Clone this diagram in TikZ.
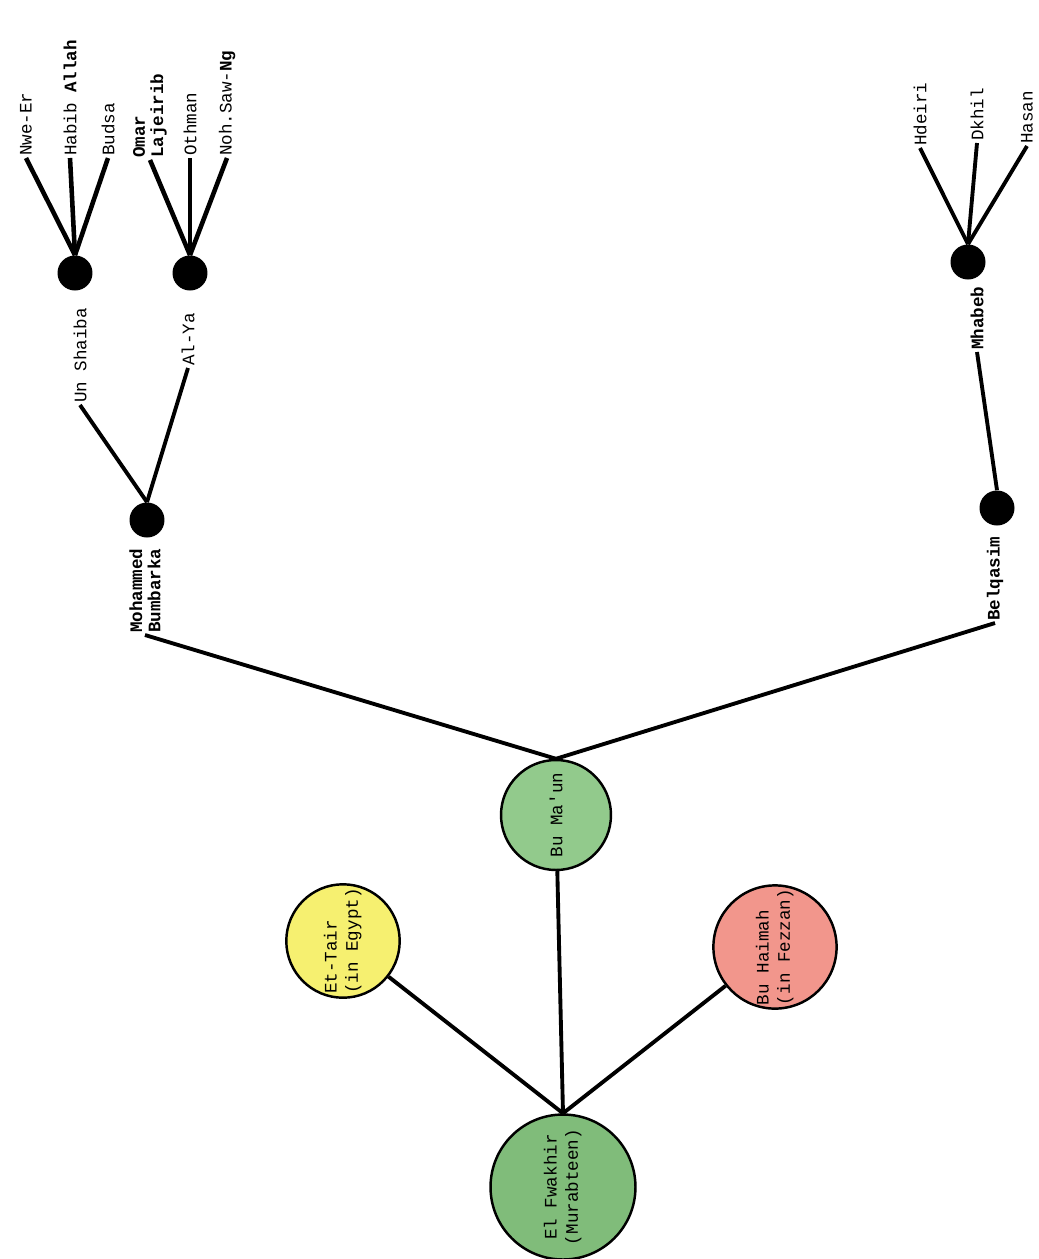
\documentclass[tikz,border=0pt]{standalone}
\usepackage{fontspec}
\setmainfont{Liberation Mono}
\usetikzlibrary{positioning}

\definecolor{fwgreen}{RGB}{128,188,122}
\definecolor{maungreen}{RGB}{146,202,140}
\definecolor{tairyellow}{RGB}{246,240,112}
\definecolor{haimahred}{RGB}{242,150,140}

\begin{document}
\begin{tikzpicture}[x=0.02cm,y=-0.02cm,
    person/.style={circle,draw,line width=1.4pt,inner sep=0pt},
    dot/.style={circle,fill=black,minimum size=0.7cm,inner sep=0pt},
    lab/.style={inner sep=1pt,anchor=south},
    link/.style={line width=2.2pt},
    twig/.style={line width=2.6pt}]
  \useasboundingbox (0,0) rectangle (1039,1259);

  % the lower three generations
  \node[person,fill=fwgreen,minimum size=2.9cm] (fwakhir) at (563,1187)
    {\rotatebox{90}{\begin{tabular}{@{}c@{}}El Fwakhir\\(Murabteen)\end{tabular}}};
  \node[person,fill=maungreen,minimum size=2.2cm] (bumaun) at (556,815) {\rotatebox{90}{Bu Ma\textquotesingle un}};
  \node[person,fill=tairyellow,minimum size=2.26cm] (ettair) at (343,941)
    {\rotatebox{90}{\begin{tabular}{@{}l@{}}Et-Tair\\(in Egypt)\end{tabular}}};
  \node[person,fill=haimahred,minimum size=2.28cm] (buhaimah) at (775,947)
    {\rotatebox{90}{\begin{tabular}{@{}l@{}}Bu Haimah\\(in Fezzan)\end{tabular}}};
  \draw[link] (fwakhir.north) -- (bumaun);
  \draw[link] (fwakhir.north) -- (ettair);
  \draw[link] (fwakhir.north) -- (buhaimah);

  % Bu Ma'un's sons
  \node[lab,font=\bfseries] (mohammed) at (145,635) {\rotatebox{90}{\shortstack[l]{Mohammed\\Bumbarka}}};
  \node[dot] (mohammeddot) at (147,520) {};
  \node[lab,font=\bfseries] (belqasim) at (995,623) {\rotatebox{90}{Belqasim}};
  \node[dot] (belqasimdot) at (997,508) {};
  \draw[link] (bumaun.north) -- (mohammed.south);
  \draw[link] (bumaun.north) -- (belqasim.south);

  % next generation
  \node[lab] (unshaiba) at (80,405) {\rotatebox{90}{Un Shaiba}};
  \node[dot] (unshaibadot) at (75,273) {};
  \node[lab] (alya) at (188,368) {\rotatebox{90}{Al-Ya}};
  \node[dot] (alyadot) at (190,273) {};
  \node[lab,font=\bfseries] (mhabeb) at (977,352) {\rotatebox{90}{Mhabeb}};
  \node[dot] (mhabebdot) at (968,262) {};
  \draw[link] (unshaiba.south) -- (mohammeddot.north);
  \draw[link] (alya.south) -- (mohammeddot.north);
  \draw[link] (mhabeb.south) -- (belqasimdot.north);

  % leaves
  \foreach \nm/\x/\y/\txt in {nweer/26/158/Nwe-Er, habib/70/158/Habib \textbf{Allah}, budsa/108/158/Budsa,
      othman/190/158/Othman, nohsaw/227/158/Noh.Saw-\textbf{Ng},
      hdeiri/920/148/Hdeiri, dkhil/977/143/Dkhil, hasan/1027/146/Hasan}
    \node[lab] (\nm) at (\x,\y) {\rotatebox{90}{\txt}};
  \node[lab,font=\bfseries] (omar) at (150,160) {\rotatebox{90}{\shortstack[l]{Omar\\Lajeirib}}};
  \foreach \c in {nweer,habib,budsa} \draw[twig] (\c.south) -- (unshaibadot.north);
  \foreach \c in {omar,othman,nohsaw} \draw[twig] (\c.south) -- (alyadot.north);
  \foreach \c in {hdeiri,dkhil,hasan} \draw[link] (\c.south) -- (mhabebdot.north);
\end{tikzpicture}
\end{document}
